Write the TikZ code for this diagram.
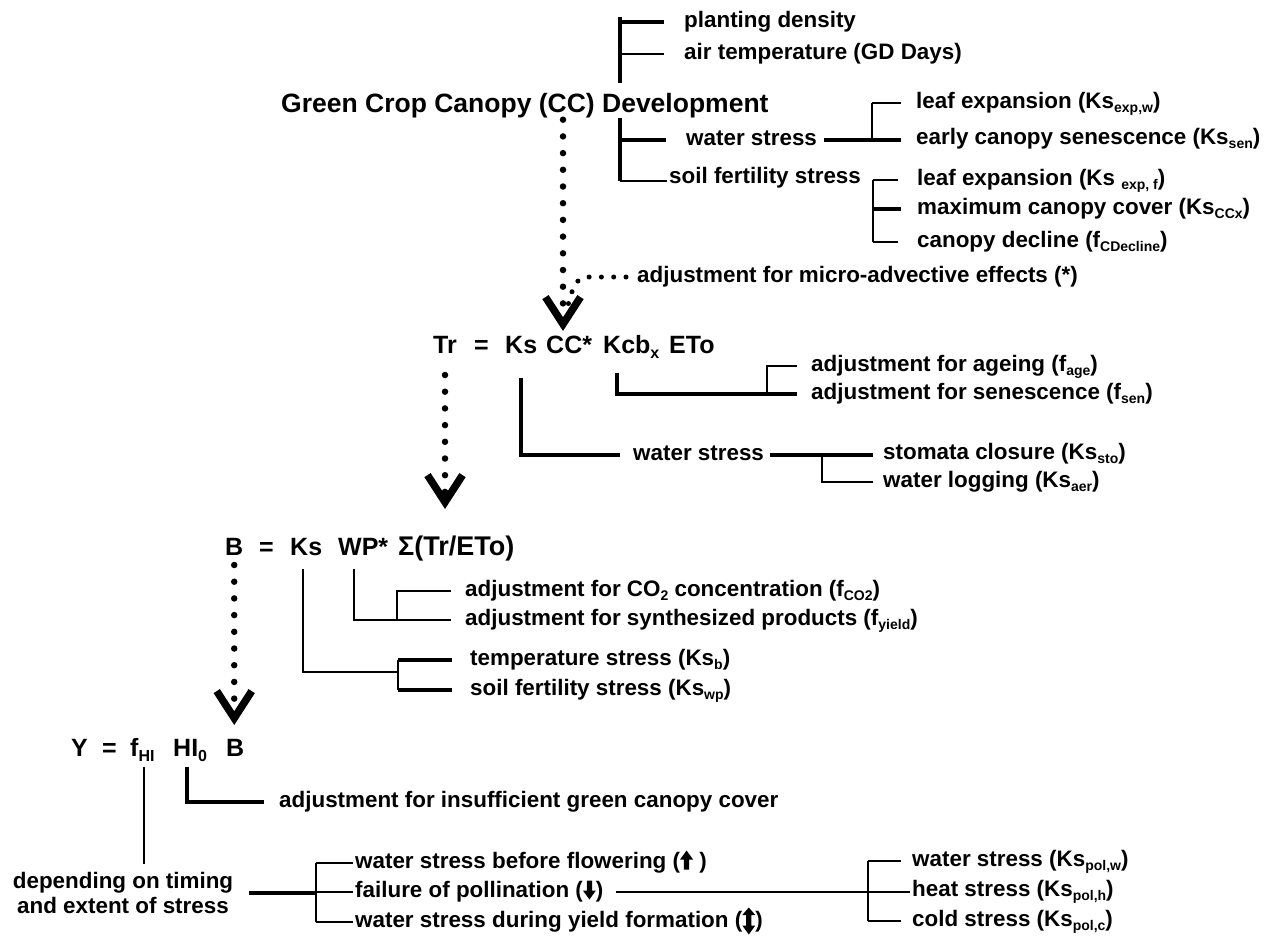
\documentclass[tikz,border=0pt]{standalone}
\usepackage{fontspec}
\setmainfont{Liberation Sans}
\usetikzlibrary{arrows.meta}
\newcommand\arrUp{\tikz[x=1pt,y=1pt,baseline=0pt]\fill[black] (-2.6,-1)--(-2.6,9)--(-6.5,9)--(0,18)--(6.5,9)--(2.6,9)--(2.6,-1)--cycle;}
\newcommand\arrDown{\tikz[x=1pt,y=1pt,baseline=0pt]\fill[black] (-2.6,17)--(-2.6,7)--(-6.5,7)--(0,-2)--(6.5,7)--(2.6,7)--(2.6,17)--cycle;}
\newcommand\arrUD{\tikz[x=1pt,y=1pt,baseline=0pt]\fill[black] (0,20)--(6.5,12.5)--(2.6,12.5)--(2.6,2)--(6.5,2)--(0,-7)--(-6.5,2)--(-2.6,2)--(-2.6,12.5)--(-6.5,12.5)--cycle;}
\newcommand\sub[1]{\raisebox{-0.2em}{\fontsize{14}{14}\selectfont #1}}
\newcommand\bsub[1]{\raisebox{-0.22em}{\fontsize{16}{16}\selectfont #1}}
\begin{document}
\begin{tikzpicture}[x=1pt,y=-1pt,
  sm/.style={font=\fontsize{22.4}{26}\selectfont\bfseries, anchor=west, inner sep=0pt, text height=16pt, text depth=5pt},
  bg/.style={font=\fontsize{25}{29}\selectfont\bfseries, anchor=base west, inner sep=0pt},
  ttl/.style={font=\fontsize{26.5}{30}\selectfont\bfseries, anchor=base west, inner sep=0pt},
  dep/.style={font=\fontsize{22.4}{24.5}\selectfont\bfseries, align=center, inner sep=2pt},
  thk/.style={line width=3.6pt},
  med/.style={line width=2.6pt},
  thn/.style={line width=1.7pt},
  dotarrow/.style={line width=6.5pt, line cap=round, dash pattern=on 0pt off 16.7pt,
     -{Straight Barb[length=27pt,width=35pt,line width=7.5pt]}},
  dots2/.style={line width=5pt, line cap=round, dash pattern=on 0pt off 12.3pt}
]
\fill[white] (0,0) rectangle (1275,940);
\useasboundingbox (0,0) rectangle (1275,940);

% ---------- canopy development ----------
\node[sm] (pd) at (684,22) {planting density};
\node[sm] (at) at (684,54) {air temperature (GD Days)};
\node[ttl] (title) at (281,112) {Green Crop Canopy (CC) Development};
\node[sm] (leaf1) at (916,103) {leaf expansion (Ks\sub{exp,w})};
\node[sm] (ws1) at (686,140) {water stress};
\node[sm] (ecs) at (916,139) {early canopy senescence (Ks\sub{sen})};
\node[sm] (sfs) at (669,178) {soil fertility stress};
\node[sm] (leaf2) at (917,180) {leaf expansion (Ks \sub{exp, f})};
\node[sm] (mcc) at (917,209) {maximum canopy cover (Ks\sub{CCx})};
\node[sm] (cd) at (917,242) {canopy decline (f\sub{CDecline})};
\node[sm] (micro) at (637,277) {adjustment for micro-advective effects (*)};

\coordinate (s1) at (620,17);
\coordinate (s1b) at (620,83);
\draw[thk] (s1) -- (s1b);
\draw[thk] (s1 |- pd.west) -- ([xshift=-20pt]pd.west);
\draw[thn] (s1 |- at.west) -- ([xshift=-20pt]at.west);
\coordinate (s2) at (620,118);
\draw[thk] (s2) -- ([yshift=-3pt]s2 |- sfs.west);
\draw[thk] (s2 |- ws1.west) -- ([xshift=-20pt]ws1.west);
\draw[thn] ([yshift=-3pt]s2 |- sfs.west) -- ([xshift=-2pt,yshift=-3pt]sfs.west);

\coordinate (s3) at (872,0);
\draw[thk, shorten >=15pt] ([xshift=7pt]ws1.east) -- (ws1.east -| ecs.west);
\draw[med] (s3 |- ws1.east) -- (s3 |- leaf1.west);
\draw[thn, shorten >=15pt] (s3 |- leaf1.west) -- (leaf1.west);

\coordinate (s4) at (873,0);
\draw[med] (s4 |- leaf2.west) -- (s4 |- cd.west);
\draw[thn, shorten >=19pt] (s4 |- leaf2.west) -- (leaf2.west);
\draw[thk, shorten >=16pt] (s4 |- mcc.west) -- (mcc.west);
\draw[thn, shorten >=19pt] (s4 |- cd.west) -- (cd.west);

% ---------- transpiration ----------
\node[bg] (tr) at (433,353) {Tr};
\node[bg] (eq1) at (474,353) {=};
\node[bg] (ks1) at (505,353) {Ks};
\node[bg] (cc) at (546,353) {CC*};
\node[bg] (kcb) at (603,353) {Kcb\bsub{x}};
\node[bg] (eto) at (669,353) {ETo};
\node[sm] (age) at (811,366) {adjustment for ageing (f\sub{age})};
\node[sm] (sen) at (811,394) {adjustment for senescence (f\sub{sen})};
\node[sm] (ws2) at (633,455) {water stress};
\node[sm] (sto) at (883,454) {stomata closure (Ks\sub{sto})};
\node[sm] (log) at (883,482) {water logging (Ks\sub{aer})};

\coordinate (cctip) at (563,331);
\draw[dotarrow] ([yshift=-2pt]title.south -| cctip) -- (cctip);
\coordinate (mtip) at (565,313);
\draw[dots2] ([xshift=-11pt]micro.west) -- ++(-38,0) to[out=180,in=65] (mtip);

\draw[thk] ([yshift=-25pt]ks1.south) |- ([xshift=-13pt]ws2.west);
\draw[thk, shorten >=10pt] ([xshift=6pt]ws2.east) -- (ws2.east -| sto.west);
\coordinate (s5) at (822,0);
\draw[med] (s5 |- ws2.east) |- ([xshift=-10pt]log.west);

\draw[thk] ([xshift=14pt,yshift=-20pt]kcb.base west) |- ([xshift=-14pt]sen.west);
\coordinate (s6) at (767,0);
\draw[med] (s6 |- sen.west) |- ([xshift=-14pt]age.west);

% ---------- biomass ----------
\node[bg] (b) at (225,555) {B};
\node[bg] (eq2) at (259,555) {=};
\node[bg] (ks2) at (290,555) {Ks};
\node[bg] (wp) at (338,555) {WP*};
\node[bg, font=\fontsize{27}{30}\selectfont\bfseries] (sig) at (398,555) {Σ(Tr/ETo)};
\node[sm] (co2) at (465,591) {adjustment for CO\sub{2} concentration (f\sub{CO2})};
\node[sm] (yld) at (465,620) {adjustment for synthesized products (f\sub{yield})};
\node[sm] (tmp) at (470,660) {temperature stress (Ks\sub{b})};
\node[sm] (sfw) at (470,690) {soil fertility stress (Ks\sub{wp})};

\draw[dotarrow] ([yshift=-22pt]tr.base) -- ++(0,134);

\coordinate (s7) at (398,0);
\coordinate (s7m) at (398,672);
\draw[thn] ([xshift=13pt,yshift=-14pt]ks2.base west) |- (s7m);
\draw[thn] (s7 |- tmp.west) -- (s7 |- sfw.west);
\draw[thk, shorten >=18pt] (s7 |- tmp.west) -- (tmp.west);
\draw[thk, shorten >=18pt] (s7 |- sfw.west) -- (sfw.west);
\draw[thn] ([xshift=16pt,yshift=-14pt]wp.base west) |- ([xshift=-14pt]yld.west);
\coordinate (s8) at (397,0);
\draw[thn] (s8 |- yld.west) |- ([xshift=-14pt]co2.west);

% ---------- yield ----------
\node[bg] (y) at (71,756) {Y};
\node[bg] (eq3) at (102,756) {=};
\node[bg] (fhi) at (130,756) {f\bsub{HI}};
\node[bg] (hi0) at (173,756) {HI\bsub{0}};
\node[bg] (yb) at (226,756) {B};
\node[sm] (ins) at (279,802) {adjustment for insufficient green canopy cover};
\node[dep] (dep) at (123,893) {depending on timing\\and extent of stress};
\node[sm] (wsbf) at (355,863) {water stress before flowering (\arrUp\ )};
\node[sm] (fop) at (355,892) {failure of pollination (\arrDown)};
\node[sm] (wsdy) at (355,922) {water stress during yield formation (\arrUD)};
\node[sm] (wsp) at (912,861) {water stress (Ks\sub{pol,w})};
\node[sm] (hsp) at (912,891) {heat stress (Ks\sub{pol,h})};
\node[sm] (csp) at (912,921) {cold stress (Ks\sub{pol,c})};

\draw[dotarrow] ([yshift=-10pt]b.base) -- ++(0,160);

\coordinate (fv) at ([xshift=14pt,yshift=-11pt]fhi.base west);
\draw[thn] (fv) -- ([yshift=6pt]fv |- dep.north);
\draw[thk] ([xshift=14pt,yshift=-11pt]hi0.base west) |- ([xshift=-15pt]ins.west);

\coordinate (s9) at (316,0);
\draw[thk] ([xshift=14pt]dep.east) -- (s9 |- dep.east);
\draw[med] (s9 |- wsbf.west) -- (s9 |- wsdy.west);
\draw[thn] (s9 |- wsbf.west) -- ([xshift=-2pt]wsbf.west);
\draw[thn] (s9 |- fop.west) -- ([xshift=-2pt]fop.west);
\draw[thn] (s9 |- wsdy.west) -- ([xshift=-2pt]wsdy.west);

\coordinate (s10) at (868,0);
\draw[thn, shorten >=2pt] ([xshift=12pt]fop.east) -- (fop.east -| hsp.west);
\draw[thn] (s10 |- wsp.west) -- (s10 |- csp.west);
\draw[thn, shorten >=11pt] (s10 |- wsp.west) -- (wsp.west);
\draw[thn, shorten >=11pt] (s10 |- csp.west) -- (csp.west);
\end{tikzpicture}
\end{document}
